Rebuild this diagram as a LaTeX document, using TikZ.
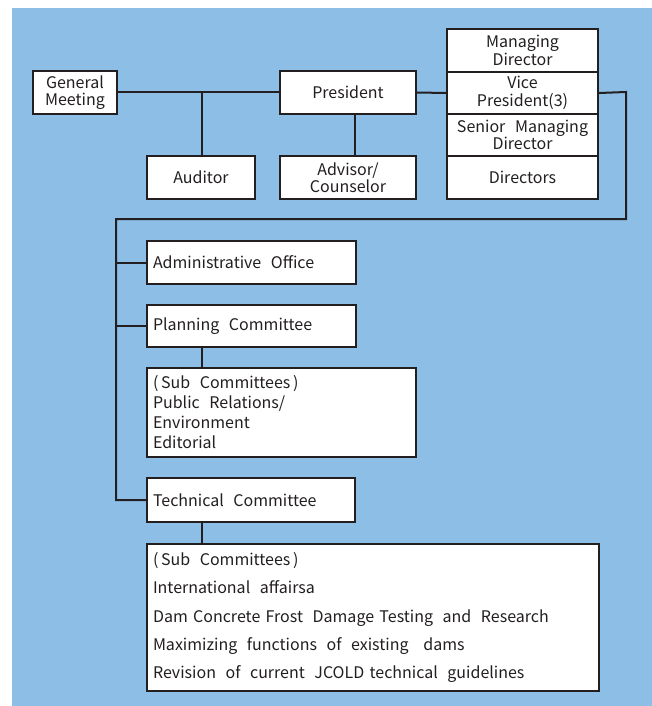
\documentclass[tikz,border=0pt]{standalone}
\usepackage{fontspec}
\setmainfont{Noto Sans CJK JP}
\definecolor{bgblue}{RGB}{141,190,230}
\definecolor{ink}{RGB}{35,31,32}
\newcommand{\ws}{\hspace{0.6em}}
\begin{document}
\begin{tikzpicture}[x=1pt,y=-1pt,
  box/.style={draw=ink,line width=2pt,fill=white,text=ink,inner sep=0pt,anchor=north west,align=center,font=\fontsize{16}{17.5}\selectfont},
  lbox/.style={box,align=left,text width=#1,inner xsep=6pt},
  conn/.style={draw=ink,line width=2pt}]
\useasboundingbox (0,0) rectangle (652,706);
\fill[bgblue] (12,8) rectangle (652,706);
% top row
\node[box,minimum width=84,minimum height=43] (gm) at (32,70) {General\\Meeting};
\node[box,minimum width=136,minimum height=43] (pres) at (279,70) {President};
\node[box,minimum width=108,minimum height=43] (aud) at (146,155) {Auditor};
\node[box,minimum width=136,minimum height=43] (adv) at (279,155) {Advisor/\\Counselor};
\node[box,minimum width=151,minimum height=43] (md) at (446,28) {Managing\\Director};
\node[box,minimum width=151,minimum height=42] (vp) at (446,71) {Vice\\President(3)};
\node[box,minimum width=151,minimum height=42] (smd) at (446,113) {Senior\ws Managing\\Director};
\node[box,minimum width=151,minimum height=43] (dir) at (446,155) {Directors};
% lower part
\node[lbox=197,minimum height=43] (adm) at (146,240) {Administrative\ws Office};
\node[lbox=197,minimum height=42] (plan) at (146,304) {Planning\ws Committee};
\node[lbox=257,minimum height=89,font=\fontsize{16}{20}\selectfont] (sub1) at (146,367) {(\,Sub\ws Committees\,)\\Public\ws Relations/\\Environment\\Editorial};
\node[lbox=196,minimum height=44] (tech) at (146,477) {Technical\ws Committee};
\node[lbox=440,minimum height=147,font=\fontsize{16}{28.3}\selectfont] (sub2) at (146,543) {(\,Sub\ws Committees\,)\\International\ws affairsa\\Dam Concrete Frost\ws Damage Testing\ws and\ws Research\\Maximizing\ws functions\ws of\ws existing\ws\ dams\\Revision\ws of\ws current\ws JCOLD technical\ws guidelines};
% connectors
\coordinate (j1) at (202,92);
\coordinate (r1) at (626,92);
\coordinate (r2) at (626,219);
\coordinate (l1) at (116,219);
\draw[conn] (gm.east) -- (pres.west);
\draw[conn] ([xshift=56]aud.north west) -- (j1);
\draw[conn] ([xshift=76]pres.south west) -- ([xshift=76]adv.north west);
\draw[conn] (pres.east) -- (vp.west);
\draw[conn] (vp.east) -- (r1) -- (r2) -- (l1) |- (tech.west);
\draw[conn] (l1) |- (adm.west);
\draw[conn] (l1) |- (plan.west);
\draw[conn] ([xshift=56]plan.south west) -- ([xshift=56]sub1.north west);
\draw[conn] ([xshift=56]tech.south west) -- ([xshift=56]sub2.north west);
\end{tikzpicture}
\end{document}
